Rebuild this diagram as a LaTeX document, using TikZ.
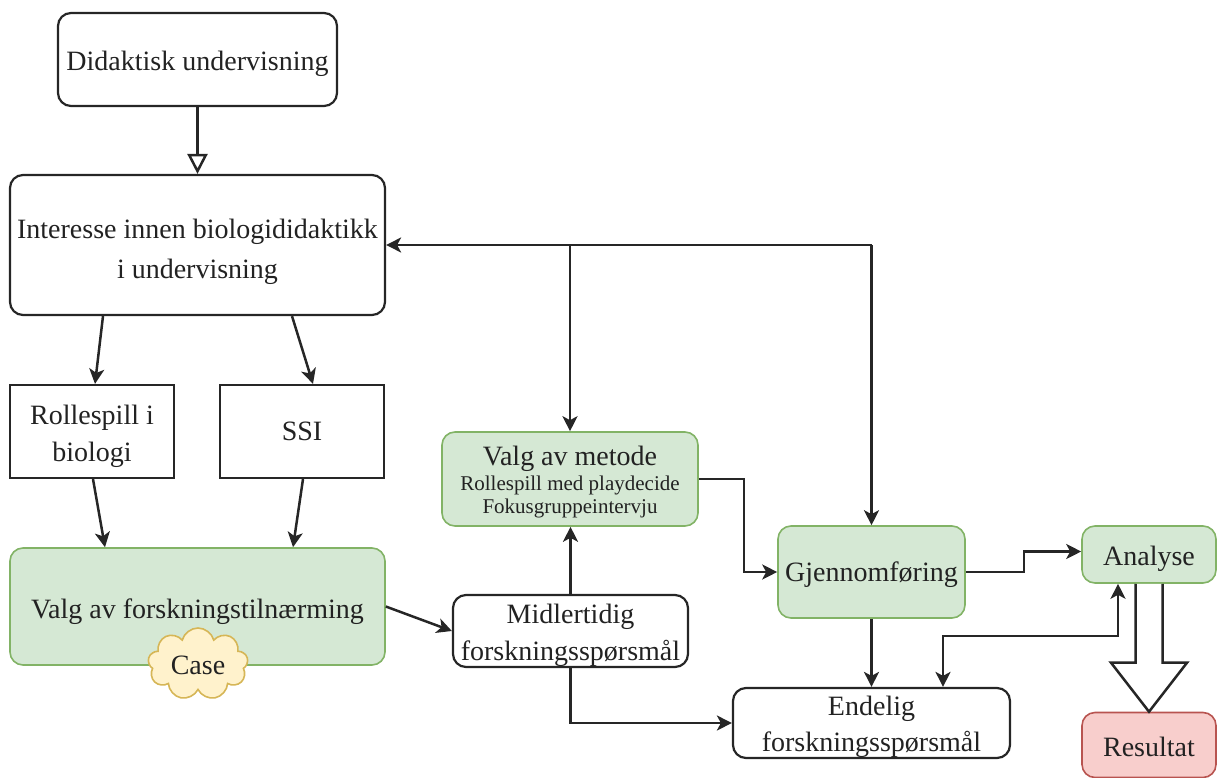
\documentclass[tikz,border=0pt]{standalone}
\usepackage{fontspec}
\setmainfont{Liberation Serif}
\usetikzlibrary{arrows.meta,shapes.symbols,calc}
\definecolor{gfill}{HTML}{D5E8D4}
\definecolor{gdraw}{HTML}{82B366}
\definecolor{rfill}{HTML}{F8CECC}
\definecolor{rdraw}{HTML}{B85450}
\definecolor{yfill}{HTML}{FFF2CC}
\definecolor{ydraw}{HTML}{D6B656}
\definecolor{txt}{HTML}{222222}
\newcommand\upstrut[1]{\rule{0pt}{#1}}
\tikzset{
  box/.style={draw=black!85, line width=2.2pt, rounded corners=13pt, inner sep=0pt, align=center,
    text=txt, font=\fontsize{28}{38}\selectfont},
  sqbox/.style={box, rounded corners=0pt},
  gbox/.style={box, fill=gfill, draw=gdraw, line width=1.6pt},
  rbox/.style={box, fill=rfill, draw=rdraw, line width=1.6pt},
  arr/.style={draw=black!85, line width=2.5pt, -{Stealth[length=15pt,width=15pt,inset=4pt]}},
  arrboth/.style={draw=black!85, line width=2.5pt, {Stealth[length=15pt,width=15pt,inset=4pt]}-{Stealth[length=15pt,width=15pt,inset=4pt]}},
  openarr/.style={draw=black!85, line width=2.5pt, -{Triangle[open,length=20pt,width=20pt]}},
  bigarrow/.style={draw=black!85, line width=2.5pt, fill=white, line join=miter},
}
\begin{document}
\begin{tikzpicture}[x=1pt,y=-1pt]
\useasboundingbox (0,0) rectangle (1217,778);

\node[box, minimum width=279pt, minimum height=93pt] (did) at (197.5,59.5) {\upstrut{28pt}Didaktisk undervisning};
\node[box, minimum width=375pt, minimum height=140pt, font=\fontsize{28}{40}\selectfont] (int) at (197.5,245) {\upstrut{34pt}Interesse innen biologididaktikk\\i undervisning};
\node[sqbox, minimum width=164pt, minimum height=93pt] (rol) at (92,431.5) {\upstrut{30pt}Rollespill i\\[-1pt]biologi};
\node[sqbox, minimum width=164pt, minimum height=93pt] (ssi) at (302,431.5) {SSI};
\node[gbox, minimum width=375pt, minimum height=117pt] (vaf) at (197.5,606.5) {\upstrut{30pt}Valg av forskningstilnærming};
\node[cloud, cloud puffs=9, aspect=1.4, draw=ydraw, fill=yfill, line width=1.6pt, minimum width=100pt, minimum height=72pt, inner sep=0pt, text=txt, font=\fontsize{28}{34}\selectfont] (case) at (198,664) {\upstrut{22pt}Case};
\node[box, minimum width=235pt, minimum height=72pt, font=\fontsize{28}{37}\selectfont] (mid) at (570.5,631) {\upstrut{28.5pt}Midlertidig\\forskningsspørsmål};
\node[gbox, minimum width=256pt, minimum height=94pt, font=\fontsize{21}{23}\selectfont] (vam) at (570,479) {{\fontsize{28}{30}\selectfont\upstrut{26pt}Valg av metode}\\[2pt]Rollespill med playdecide\\Fokusgruppeintervju};
\node[gbox, minimum width=187pt, minimum height=92pt] (gje) at (871.5,572) {\upstrut{26pt}Gjennomføring};
\node[box, minimum width=277pt, minimum height=70pt, font=\fontsize{28}{36}\selectfont] (end) at (871.5,723) {\upstrut{27.5pt}Endelig\\forskningsspørsmål};
\node[gbox, minimum width=134pt, minimum height=57pt] (ana) at (1149,554.5) {\upstrut{28pt}Analyse};
\node[rbox, minimum width=134pt, minimum height=65pt] (res) at (1149,745) {\upstrut{24pt}Resultat};

% connectors
\draw[openarr] (did.south) -- (int.north);
\draw[arr] ([xshift=-94.5pt]int.south) -- ([xshift=3pt]rol.north);
\draw[arr] ([xshift=94.5pt]int.south) -- ([xshift=11pt]ssi.north);
\draw[arr] ([xshift=1pt]rol.south) -- ([xshift=-92.5pt]vaf.north);
\draw[arr] ([xshift=1pt]ssi.south) -- ([xshift=95.5pt]vaf.north);
\draw[arr] (vaf.east) -- (mid.west);
\draw[arr] (mid.north) -- (mid.north |- vam.south);
\draw[arr] (vam.east) -- ([xshift=45pt]vam.east) |- (gje.west);
\draw[arr] (gje.south) -- (gje.south |- end.north);
\draw[arr] (mid.south) |- (end.west);
\draw[arr] (gje.east) -- ([xshift=58pt]gje.east) |- ([yshift=3pt]ana.west);
\coordinate (k) at (1118,636);
\draw[arrboth] ([xshift=71.5pt]end.north) |- (k) -- (k |- ana.south);
\coordinate (jr) at (gje.north |- int.east);
\draw[arr] (jr) -- (int.east);
\draw[arr] (jr) -- (gje.north);
\draw[arr] (vam.north |- int.east) -- (vam.north);
\draw[bigarrow] ($(ana.south)+(-13.5,0)$) -- ($(res.north)+(-13.5,-49)$) -- ($(res.north)+(-38,-49)$) -- (res.north) -- ($(res.north)+(38,-49)$) -- ($(res.north)+(13.5,-49)$) -- ($(ana.south)+(13.5,0)$);
\end{tikzpicture}
\end{document}
